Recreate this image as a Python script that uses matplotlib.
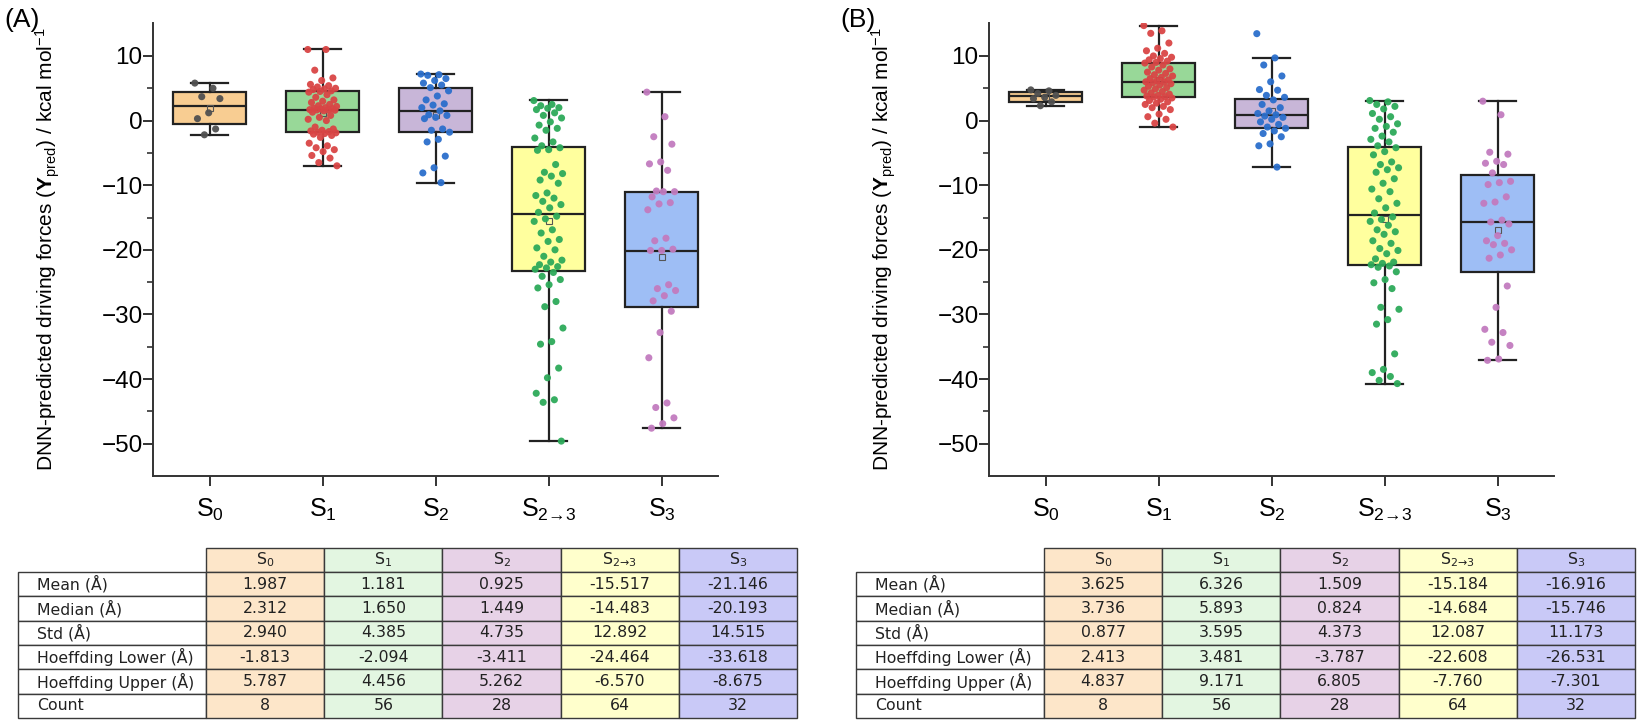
import matplotlib
matplotlib.use('Agg')
import matplotlib.pyplot as plt
from matplotlib.patches import Rectangle
from matplotlib import ticker
import numpy as np

plt.rcParams['font.family'] = ['Liberation Sans', 'DejaVu Sans']
plt.rcParams['mathtext.fontset'] = 'custom'
plt.rcParams['mathtext.rm'] = 'Liberation Sans'
plt.rcParams['mathtext.it'] = 'Liberation Sans:italic'
plt.rcParams['mathtext.bf'] = 'Liberation Sans:bold'

# unicode arrow keeps mathtext from adding relation spacing
states = ['S$_0$', 'S$_1$', 'S$_2$', 'S$_{2\u21923}$', 'S$_3$']

# ---------------- panel A points ----------------
a_s0 = [5.8, 5.0, 3.7, 3.4, 1.2, 0.3, -1.3, -2.2]
a_s1 = [11.0, 11.0, 7.8, 6.6, 6.2, 5.6, 5.4, 5.2, 5.0, 4.9, 4.8, 4.6, 4.5, 4.4,
        4.0, 3.6, 3.2, 3.0, 2.8, 2.5, 2.3, 2.2, 2.0, 1.9, 1.85, 1.8, 1.7, 1.65,
        1.65, 1.6, 1.5, 1.3, 0.8, 0.5, 0.2, 0.0, -1.0, -1.3, -1.5, -1.6, -1.7, -1.8,
        -1.9, -2.0, -2.1, -2.3, -2.6, -3.5, -3.9, -4.2, -4.5, -4.8, -5.4, -5.8, -6.5, -7.0]
a_s2 = [7.2, 7.1, 7.0, 6.5, 6.2, 5.8, 5.5, 5.1, 4.6, 3.8, 3.2, 2.6, 2.4, 2.0,
        1.5, 0.9, 0.8, 0.5, 0.3, -1.3, -1.5, -1.8, -2.9, -3.3, -5.5, -7.3, -8.1, -9.6]
a_s23 = [3.1, 2.5, 2.3, 2.0, 1.9, 1.7, 1.2, 0.8, 0.4, -0.2, -0.7, -1.2, -1.5, -2.7, -3.3, -3.9,
         -4.2, -4.5, -4.6, -6.8, -8.0, -8.2, -8.6, -9.2, -9.7, -11.2, -11.6, -12.0, -12.5, -13.0, -13.5, -14.2,
         -14.8, -15.2, -15.6, -16.9, -17.4, -18.4, -18.7, -19.7, -20.0, -21.0, -21.6, -21.9, -22.3, -22.6, -22.8, -23.0,
         -23.5, -24.1, -24.6, -25.4, -25.9, -28.0, -28.8, -32.1, -34.2, -34.6, -38.3, -39.8, -42.2, -43.2, -43.6, -49.6]
a_s3 = [4.4, 0.6, -2.5, -3.65, -6.4, -6.7, -7.7, -10.9, -11.0, -11.0, -11.8, -12.7, -12.9, -13.8,
        -18.2, -18.6, -19.9, -20.1, -20.1, -25.4, -26.0, -26.3, -27.1, -27.9, -29.5, -32.8,
        -36.7, -43.7, -44.4, -46.0, -46.9, -47.6]

# ---------------- panel B points ----------------
b_s0 = [4.75, 4.6, 4.2, 3.9, 3.6, 3.4, 2.9, 2.3]
b_s1 = [14.7, 13.9, 13.5, 12.0, 11.2, 10.8, 10.4, 10.0, 9.8, 9.6, 9.4, 9.2, 9.0, 8.9,
        8.6, 8.3, 8.0, 7.8, 7.5, 7.3, 7.1, 6.9, 6.7, 6.5, 6.3, 6.2, 6.0, 5.95,
        5.85, 5.7, 5.5, 5.3, 5.1, 4.9, 4.7, 4.5, 4.3, 4.1, 3.9, 3.8, 3.7, 3.65,
        3.5, 3.3, 3.1, 2.9, 2.7, 2.5, 2.2, 2.0, 1.7, 1.0, 0.6, 0.2, -0.4, -1.0]
b_s2 = [13.45, 9.7, 8.6, 6.9, 6.0, 4.8, 4.7, 3.9, 3.6, 3.2, 2.5, 2.0, 1.5, 1.1,
        0.9, 0.7, 0.5, 0.2, -0.2, -0.6, -1.0, -1.2, -1.6, -2.0, -2.5, -3.6, -3.9, -7.2]
b_s23 = [3.1, 2.9, 2.5, 2.2, 1.8, 1.1, 0.6, 0.2, -0.5, -0.9, -1.2, -1.8, -2.4, -2.9, -3.3, -3.9,
         -4.2, -4.8, -5.3, -6.4, -6.8, -7.3, -7.6, -8.0, -9.0, -9.7, -10.6, -11.0, -12.1, -12.8, -13.5, -14.3,
         -14.9, -15.3, -15.6, -16.2, -16.9, -17.2, -17.6, -18.6, -19.0, -19.8, -20.1, -20.6, -21.4, -21.9, -22.1, -22.3,
         -22.5, -22.7, -23.4, -24.6, -25.1, -26.0, -28.9, -29.2, -30.8, -31.5, -36.1, -38.5, -39.0, -39.6, -40.2, -40.7]
b_s3 = [3.0, 0.9, -4.9, -5.2, -6.3, -6.6, -6.8, -8.1, -9.4, -9.6, -9.9, -11.8, -12.6, -12.8, -15.4, -15.7,
        -16.0, -17.8, -18.6, -19.0, -19.2, -20.0, -20.8, -21.3, -25.6, -28.9, -32.3, -32.8, -34.3, -34.8, -36.9, -37.1]

# box stats (q1, q3, whiskers)
a_q1 = [-0.51, -1.80, -1.75, -23.2, -28.8]
a_q3 = [4.48, 4.55, 5.10, -4.07, -11.0]
a_wlo = [-2.21, -6.96, -9.63, -49.6, -47.6]
a_whi = [5.83, 11.04, 7.22, 3.15, 4.4]
b_q1 = [2.90, 3.60, -1.08, -22.4, -23.4]
b_q3 = [4.48, 8.87, 3.36, -4.07, -8.4]
b_wlo = [2.27, -0.93, -7.16, -40.7, -37.1]
b_whi = [4.75, 14.7, 9.7, 3.1, 3.0]

# table values
a_mean = [1.987, 1.181, 0.925, -15.517, -21.146]
a_median = [2.312, 1.650, 1.449, -14.483, -20.193]
a_std = [2.940, 4.385, 4.735, 12.892, 14.515]
a_hlow = [-1.813, -2.094, -3.411, -24.464, -33.618]
a_hup = [5.787, 4.456, 5.262, -6.570, -8.675]
a_count = [8, 56, 28, 64, 32]
b_mean = [3.625, 6.326, 1.509, -15.184, -16.916]
b_median = [3.736, 5.893, 0.824, -14.684, -15.746]
b_std = [0.877, 3.595, 4.373, 12.087, 11.173]
b_hlow = [2.413, 3.481, -3.787, -22.608, -26.531]
b_hup = [4.837, 9.171, 6.805, -7.760, -7.301]
b_count = [8, 56, 28, 64, 32]

row_names = ['Mean (Å)', 'Median (Å)', 'Std (Å)', 'Hoeffding Lower (Å)',
             'Hoeffding Upper (Å)', 'Count']

box_colors = ['#f8cd92', '#98d898', '#c8b6d8', '#ffff9e', '#9ebef5']
pt_colors = ['#505050', '#d94545', '#2b6fcc', '#2daa5a', '#c27bbf']
col_colors = ['#fde6c9', '#e3f6e1', '#e7d2e7', '#ffffcc', '#c9c9f7']

W, H = 1642, 726
fig = plt.figure(figsize=(W / 100, H / 100), dpi=100)


def jitter(n, spread=0.13):
    k = np.arange(n)
    return ((k * 0.618034) % 1.0 - 0.5) * 2 * spread


def draw_panel(left_px, groups, q1, q3, wlo, whi, med, mean, tag):
    ax = fig.add_axes([left_px / W, (H - 476) / H, 565 / W, 453 / H])
    stats = []
    for i in range(5):
        stats.append(dict(med=med[i], q1=q1[i], q3=q3[i], whislo=wlo[i],
                          whishi=whi[i], mean=mean[i], fliers=[]))
    lc = '#222222'
    bp = ax.bxp(stats, positions=range(1, 6), widths=0.65, capwidths=0.32,
                patch_artist=True, showmeans=True, showfliers=False,
                boxprops=dict(edgecolor=lc, linewidth=1.6),
                medianprops=dict(color=lc, linewidth=1.6),
                whiskerprops=dict(color=lc, linewidth=1.6),
                capprops=dict(color=lc, linewidth=1.6),
                meanprops=dict(marker='s', markerfacecolor='none',
                               markeredgecolor='#555555', markersize=5,
                               markeredgewidth=0.8))
    for patch, c in zip(bp['boxes'], box_colors):
        patch.set_facecolor(c)
    for i, vals in enumerate(groups):
        vals = np.asarray(vals)
        ax.scatter(i + 1 + jitter(len(vals)), vals, s=26, color=pt_colors[i],
                   edgecolors='none', alpha=0.95, zorder=4)

    ax.set_xlim(0.5, 5.5)
    ax.set_ylim(-55, 15.1)
    ax.set_xticks(range(1, 6))
    ax.set_xticklabels(states)
    ax.set_yticks(range(-50, 11, 10))
    ax.yaxis.set_minor_locator(ticker.FixedLocator([-45, -35, -25, -15, -5, 5]))
    for s in ['top', 'right']:
        ax.spines[s].set_visible(False)
    for s in ['left', 'bottom']:
        ax.spines[s].set_linewidth(1.4)
        ax.spines[s].set_color('#333333')
    ax.tick_params(axis='x', labelsize=18, length=7, width=1.4, pad=8, color='#333333')
    ax.tick_params(axis='y', which='major', labelsize=17.5, length=7, width=1.4, pad=0.5, color='#333333')
    ax.tick_params(axis='y', which='minor', length=4, width=1.2, color='#333333')
    ax.set_ylabel('DNN-predicted driving forces ($\\mathbf{Y}_{\\mathrm{pred}}$) / kcal mol$^{-1}$',
                  fontsize=15)
    ax.yaxis.set_label_coords(-0.161, 0.5)
    fig.text((left_px - 131) / W, 1 - 20 / H, tag, fontsize=19, va='center', ha='center')
    return ax


def draw_table(left_px, rows):
    tw, th = 779, 170
    tax = fig.add_axes([left_px / W, 8 / H, tw / W, th / H])
    tax.set_xlim(0, tw)
    tax.set_ylim(0, th)
    tax.axis('off')
    lab_w = 188
    col_w = (tw - lab_w) / 5
    head_h = 24
    row_h = (th - head_h) / 6
    edge = '#3a3a3a'
    txt_kw = dict(fontsize=11.3, family='DejaVu Sans', math_fontfamily='dejavusans',
                  color='#222222', va='center')
    for j, name in enumerate(states):
        x0 = lab_w + j * col_w
        tax.add_patch(Rectangle((x0, th - head_h), col_w, head_h, facecolor=col_colors[j],
                                edgecolor=edge, linewidth=1.0, clip_on=False))
        tax.text(x0 + col_w / 2, th - head_h / 2, name, ha='center', **txt_kw)
    for i, (rname, vals) in enumerate(zip(row_names, rows)):
        y0 = th - head_h - (i + 1) * row_h
        tax.add_patch(Rectangle((0, y0), lab_w, row_h, facecolor='white',
                                edgecolor=edge, linewidth=1.0, clip_on=False))
        tax.text(0.1 * lab_w, y0 + row_h / 2, rname, ha='left', **txt_kw)
        for j, v in enumerate(vals):
            x0 = lab_w + j * col_w
            tax.add_patch(Rectangle((x0, y0), col_w, row_h, facecolor=col_colors[j],
                                    edgecolor=edge, linewidth=1.0, clip_on=False))
            txt = str(v) if rname == 'Count' else '%.3f' % v
            tax.text(x0 + col_w / 2, y0 + row_h / 2, txt, ha='center', **txt_kw)


draw_panel(153, [a_s0, a_s1, a_s2, a_s23, a_s3], a_q1, a_q3, a_wlo, a_whi,
           a_median, a_mean, '(A)')
draw_panel(989, [b_s0, b_s1, b_s2, b_s23, b_s3], b_q1, b_q3, b_wlo, b_whi,
           b_median, b_mean, '(B)')
draw_table(18, [a_mean, a_median, a_std, a_hlow, a_hup, a_count])
draw_table(856, [b_mean, b_median, b_std, b_hlow, b_hup, b_count])

fig.savefig('out.png', dpi=100)
